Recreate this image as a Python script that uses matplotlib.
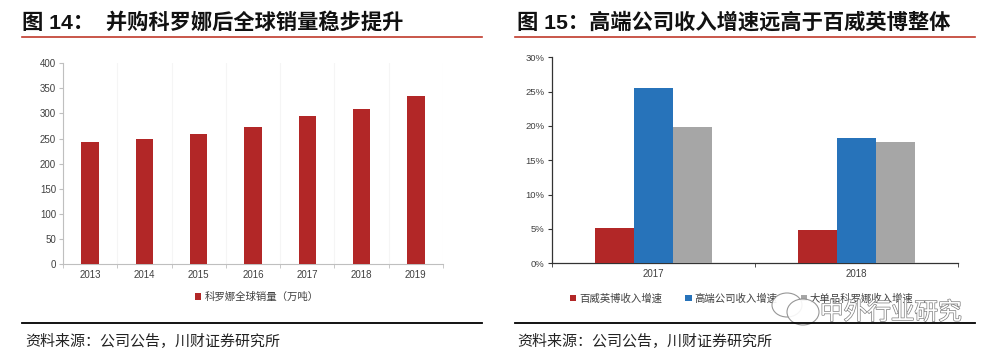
import numpy as np
import matplotlib
matplotlib.use("Agg")
import matplotlib.pyplot as plt
import matplotlib.patheffects as pe
from matplotlib.patches import Ellipse
from matplotlib.lines import Line2D

plt.rcParams['font.family'] = ['Liberation Sans', 'Noto Sans CJK SC', 'DejaVu Sans']

# left chart data
years = ['2013', '2014', '2015', '2016', '2017', '2018', '2019']
corona_sales = [244, 250, 259, 274, 294, 309, 335]
left_label = '科罗娜全球销量（万吨）'

# right chart data
groups = ['2017', '2018']
abi_growth = [5.1, 4.8]
premium_growth = [25.6, 18.3]
corona_growth = [19.9, 17.6]
right_labels = ['百威英博收入增速', '高端公司收入增速', '大单品科罗娜收入增速']

red = '#B22727'
blue = '#2773BA'
grey = '#A6A6A6'
txt = '#404040'
line_red = '#C0392B'

fig = plt.figure(figsize=(9.95, 3.57), dpi=100)

def fx(px):
    return px / 995.0

def fy(py):
    return 1 - py / 357.0

# titles, rules, source notes
fig.text(fx(22), fy(22), '图 14：  并购科罗娜后全球销量稳步提升', fontsize=15.3,
         fontweight='bold', va='center', ha='left', color='#111111')
fig.text(fx(517), fy(22), '图 15：高端公司收入增速远高于百威英博整体', fontsize=15.3,
         fontweight='bold', va='center', ha='left', color='#111111')
for x0, x1 in [(22, 482), (515, 975)]:
    fig.add_artist(Line2D([fx(x0), fx(x1)], [fy(37), fy(37)], color=line_red, lw=1.2))
    fig.add_artist(Line2D([fx(x0), fx(x1)], [fy(323), fy(323)], color='black', lw=1.3))
fig.text(fx(25), fy(342), '资料来源：公司公告，川财证券研究所', fontsize=10.8,
         va='center', ha='left', color='#222222')
fig.text(fx(517), fy(342), '资料来源：公司公告，川财证券研究所', fontsize=10.8,
         va='center', ha='left', color='#222222')

# left chart
ax1 = fig.add_axes([fx(63), fy(264), fx(443) - fx(63), fy(63.3) - fy(264)])
x = np.arange(len(years))
ax1.bar(x, corona_sales, width=0.32, color=red, label=left_label, zorder=3)
ax1.set_xlim(-0.5, len(years) - 0.5)
ax1.set_ylim(0, 400)
ax1.set_yticks(np.arange(0, 401, 50))
ax1.set_xticks(x)
ax1.set_xticklabels(years)
ax1.set_xticks(np.arange(-0.5, len(years), 1), minor=True)
ax1.tick_params(axis='x', which='major', length=0, labelsize=7, colors=txt, pad=4)
ax1.tick_params(axis='x', which='minor', length=3, color='#BFBFBF')
ax1.tick_params(axis='y', length=3, color='#BFBFBF', labelsize=7, labelcolor=txt, pad=2)
ax1.grid(axis='x', which='minor', color='#F5F5F5', lw=0.8, zorder=0)
for s in ['top', 'right']:
    ax1.spines[s].set_visible(False)
for s in ['left', 'bottom']:
    ax1.spines[s].set_color('#BFBFBF')
    ax1.spines[s].set_linewidth(0.8)
ax1.legend(loc='center', bbox_to_anchor=(0.51, -0.165), frameon=False, fontsize=7.5,
           handlelength=0.6, handleheight=0.6, handletextpad=0.3, labelcolor=txt)

# right chart
ax2 = fig.add_axes([fx(551.7), fy(263.3), fx(958) - fx(551.7), fy(57.3) - fy(263.3)])
g = np.arange(len(groups))
w = 0.192
ax2.bar(g - w, abi_growth, width=w, color=red, label=right_labels[0], zorder=3)
ax2.bar(g, premium_growth, width=w, color=blue, label=right_labels[1], zorder=3)
ax2.bar(g + w, corona_growth, width=w, color=grey, label=right_labels[2], zorder=3)
ax2.set_xlim(-0.5, len(groups) - 0.5)
ax2.set_ylim(0, 30)
ax2.set_yticks(np.arange(0, 31, 5))
ax2.set_yticklabels([f'{v}%' for v in range(0, 31, 5)])
ax2.set_xticks(g)
ax2.set_xticklabels(groups)
ax2.set_xticks(np.arange(-0.5, len(groups), 1), minor=True)
ax2.tick_params(axis='x', which='major', length=0, labelsize=7, colors=txt, pad=4)
ax2.tick_params(axis='x', which='minor', length=3, color='#333333')
ax2.tick_params(axis='y', length=3, color='#333333', labelsize=6.8, labelcolor=txt, pad=2)
for s in ['top', 'right']:
    ax2.spines[s].set_visible(False)
for s in ['left', 'bottom']:
    ax2.spines[s].set_color('#333333')
    ax2.spines[s].set_linewidth(0.9)
ax2.legend(loc='center', bbox_to_anchor=(0.468, -0.17), frameon=False, fontsize=7.5, ncol=3,
           handlelength=0.6, handleheight=0.6, handletextpad=0.3, columnspacing=2.2,
           labelcolor=txt)

# wechat watermark
for cx, cy, ww, hh in [(787, 305, 30, 24), (803, 312, 32, 26)]:
    fig.add_artist(Ellipse((fx(cx), fy(cy)), fx(ww), hh / 357.0, facecolor='white',
                           edgecolor='#8C8C8C', lw=0.8, alpha=0.9))
fig.text(fx(820), fy(313), '中外行业研究', fontsize=17, color='white', va='center', ha='left',
         fontweight='light',
         path_effects=[pe.withStroke(linewidth=1.0, foreground='#7F7F7F')])

fig.savefig('out.png', dpi=100)
